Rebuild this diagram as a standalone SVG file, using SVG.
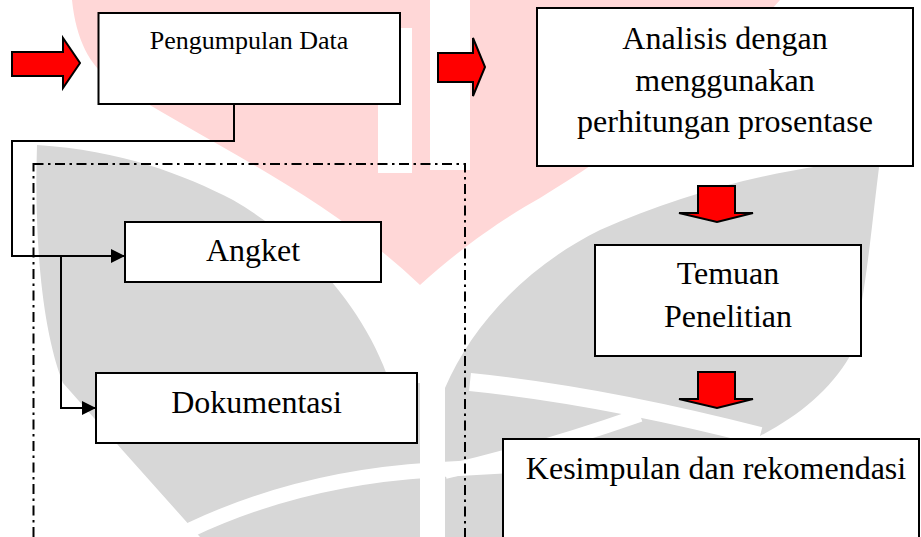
<svg xmlns="http://www.w3.org/2000/svg" width="921" height="537" viewBox="0 0 921 537">
<defs>
<style>
.box{fill:#fff;stroke:#000;stroke-width:2}
.t{font-family:"Liberation Serif","Times New Roman",serif;fill:#000;text-anchor:middle}
.big{font-size:32px}
.small{font-size:26px}
.conn{fill:none;stroke:#000;stroke-width:2}
.red{fill:#ff0000;stroke:#000;stroke-width:2;stroke-linejoin:miter}
.wm-gray{fill:#d7d7d7}
.wm-pink{fill:#ffd7d7}
.wm-white{fill:#fff}
.wm-band{fill:none;stroke:#fff}
.frame{fill:none;stroke:#000;stroke-width:2;stroke-dasharray:10 4.5 2.5 4.5}
</style>
<marker id="ah" markerUnits="userSpaceOnUse" markerWidth="14" markerHeight="14" refX="14" refY="7" orient="auto">
<path d="M0,0 L14,7 L0,14 Z" fill="#000"/>
</marker>
</defs>
<rect width="921" height="537" fill="#fff"/>
<g id="watermark">
<path class="wm-gray" d="M37,145 C120,150 185,175 233,200 C310,245 365,310 390,383 L420,383 L420,537 L200,537 L125,453 L63,383 C42,330 34,240 37,145 Z"/>
<path class="wm-gray" d="M445,388 C470,330 520,270 600,230 C690,190 790,165 880,160 C872,220 866,300 850,356 C830,390 800,415 760,436 L503,470 L503,537 L445,537 Z"/>
<path class="wm-pink" d="M72,0 C76,40 90,65 110,80 C200,140 320,190 420,285 C470,240 510,215 540,198 C620,150 700,90 780,0 Z"/>
<rect class="wm-white" x="378" y="28" width="34" height="145"/>
<rect class="wm-white" x="430" y="0" width="40" height="170"/>
<rect class="wm-white" x="420" y="383" width="25" height="160"/>
<path class="wm-band" stroke-width="15" d="M190,530 Q300,478 432,470 L503,466"/>
<path class="wm-band" stroke-width="14" d="M445,472 Q540,450 640,415"/>
<path class="wm-band" stroke-width="18" d="M470,382 Q600,395 760,436"/>
</g>
<rect class="frame" x="33.5" y="164" width="431.5" height="400"/>
<g id="connectors">
<path class="conn" d="M234,104 V141 H12 V256 H125" marker-end="url(#ah)"/>
<path class="conn" d="M61,256 V408 H96" marker-end="url(#ah)"/>
</g>
<g id="arrow-in">
<polygon class="red" points="12,52 63,52 63,38 80,63 63,88 63,76 12,76"/>
</g>
<g id="pengumpulan">
<rect class="box" x="98.5" y="13" width="301.5" height="91"/>
<text class="t small" x="249" y="49">Pengumpulan Data</text>
</g>
<g id="arrow-right">
<polygon class="red" points="438,53 473,53 473,38 485,67 473,96 473,82 438,82"/>
</g>
<g id="angket">
<rect class="box" x="125" y="222" width="256" height="60"/>
<text class="t big" x="253" y="261">Angket</text>
</g>
<g id="dokumentasi">
<rect class="box" x="96" y="373" width="321" height="70"/>
<text class="t big" x="256.5" y="413">Dokumentasi</text>
</g>
<g id="analisis">
<rect class="box" x="537" y="8" width="376" height="158"/>
<text class="t big" x="725" y="49">Analisis dengan</text>
<text class="t big" x="725" y="91">menggunakan</text>
<text class="t big" x="725" y="132">perhitungan prosentase</text>
</g>
<g id="arrow-down-1">
<polygon class="red" points="698,186 735,186 735,213 753,213 717,222 679,213 698,213"/>
</g>
<g id="temuan">
<rect class="box" x="595" y="245" width="266" height="111"/>
<text class="t big" x="728" y="284">Temuan</text>
<text class="t big" x="728" y="327">Penelitian</text>
</g>
<g id="arrow-down-2">
<polygon class="red" points="698,372 735,372 735,399 753,399 717,408 679,399 698,399"/>
</g>
<g id="kesimpulan">
<rect class="box" x="503" y="439" width="416" height="120"/>
<text class="t big" x="716" y="479">Kesimpulan dan rekomendasi</text>
</g>
</svg>
